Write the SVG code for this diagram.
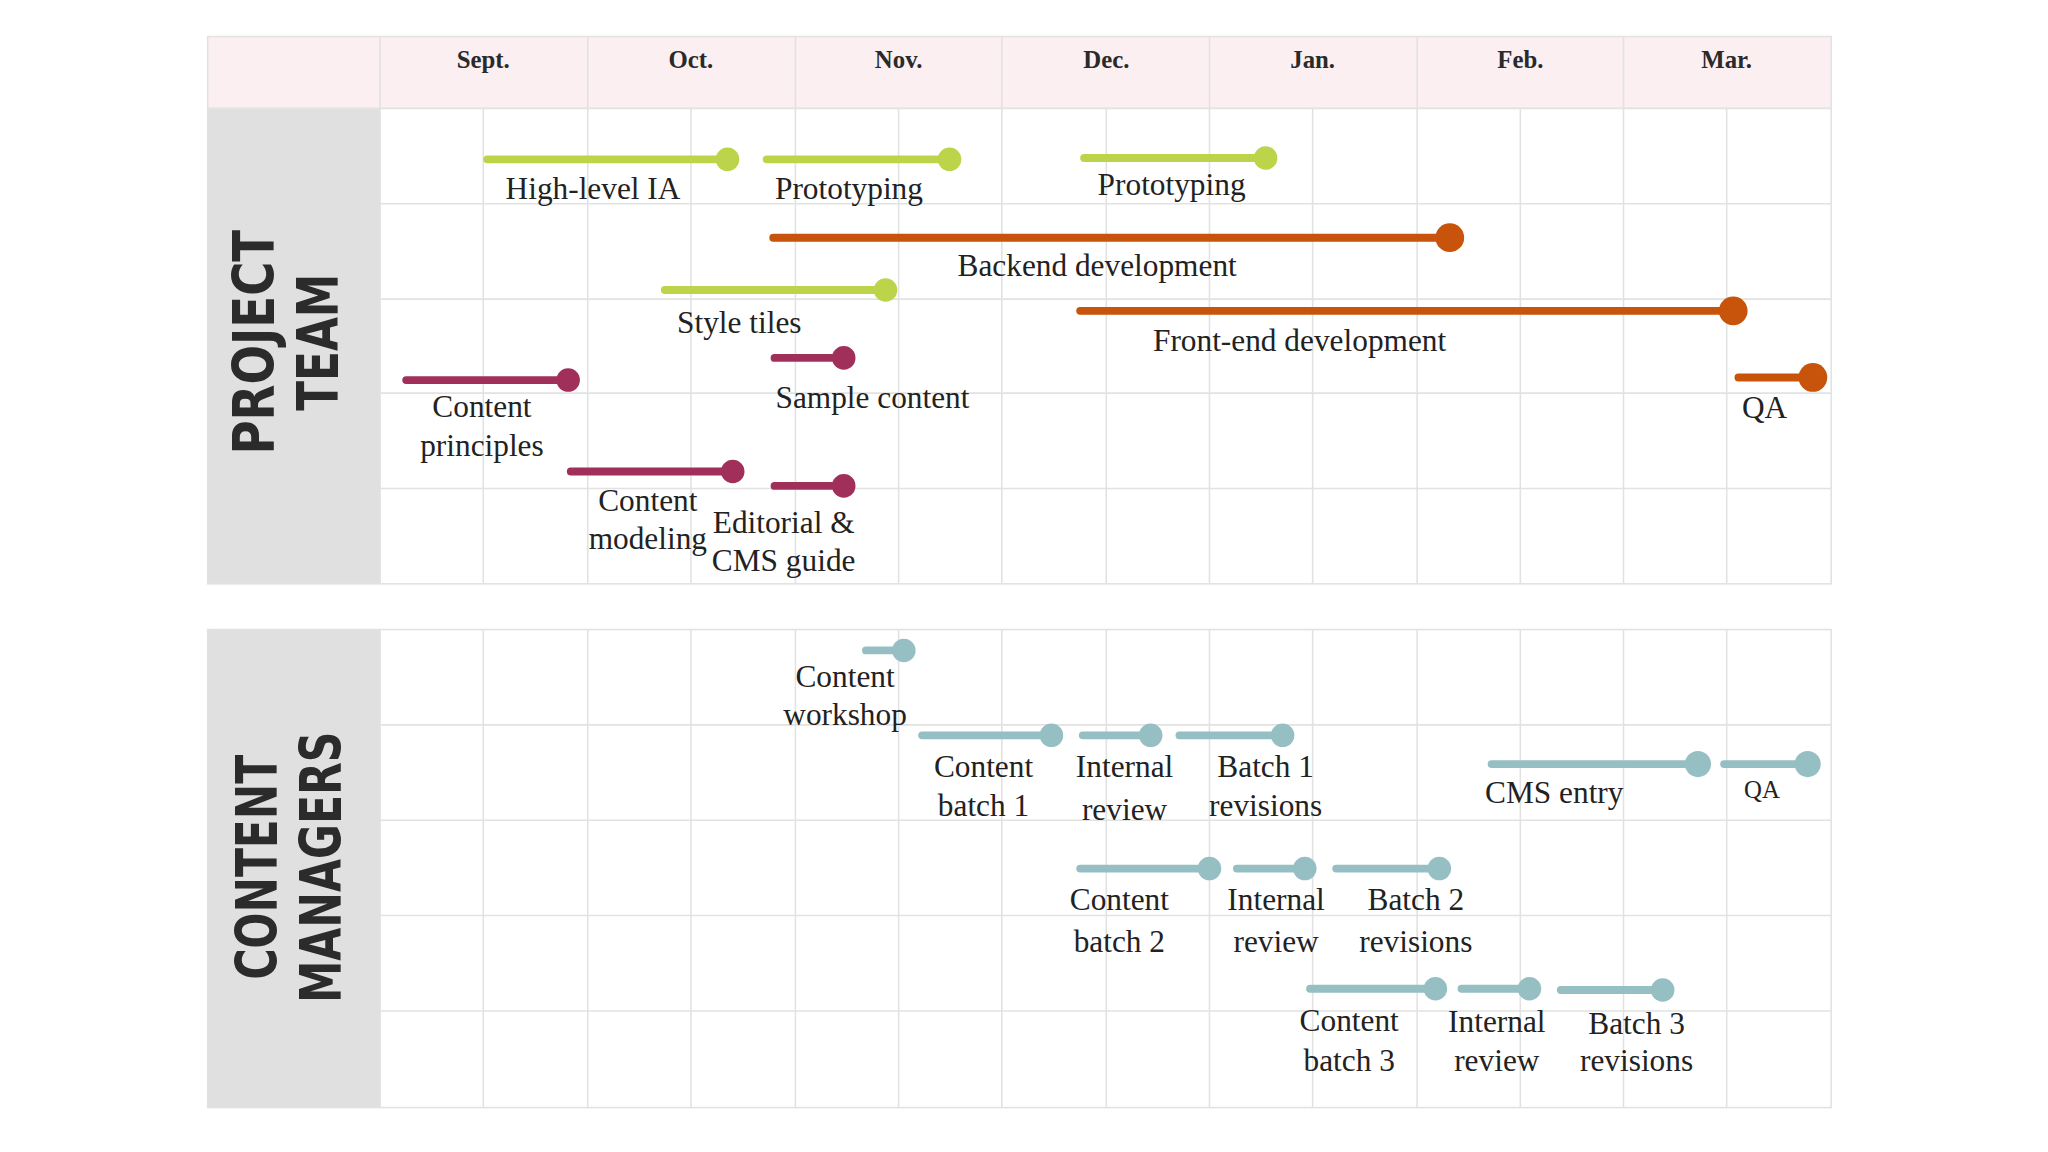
<svg xmlns="http://www.w3.org/2000/svg" width="2048" height="1152" viewBox="0 0 2048 1152">
<style>
.grid{stroke:#e2e2e2;stroke-width:1.2;fill:none}
.hd{font-family:"Liberation Serif",serif;font-weight:bold;font-size:19px;fill:#2a2a2a;text-anchor:middle}
.lb{font-family:"Liberation Serif",serif;font-size:24px;fill:#222;text-anchor:middle}
.side{font-family:"DejaVu Sans Condensed","DejaVu Sans",sans-serif;font-weight:bold;font-size:44px;fill:#2b2b2b;text-anchor:middle}
.g{stroke:#bcd44a}.o{stroke:#c8530a}.m{stroke:#a0305a}.t{stroke:#96bfc4}
.gf{fill:#bcd44a}.of{fill:#c8530a}.mf{fill:#a0305a}.tf{fill:#96bfc4}
.bar line{stroke-width:6;stroke-linecap:round}
</style>
<rect width="2048" height="1152" fill="#fff"/>
<g transform="scale(1.30612)">
<g id="top-table">
<rect x="159" y="28" width="1243" height="55" fill="#fbeff2"/>
<rect x="159" y="83" width="132" height="364" fill="#e0e0e0"/>
<rect x="159" y="28" width="1243" height="419" class="grid"/>
<path class="grid" d="M291 28V447M450 28V447M609 28V447M767 28V447M926 28V447M1085 28V447M1243 28V447M370 83V447M529 83V447M688 83V447M847 83V447M1005 83V447M1164 83V447M1322 83V447M159 83H1402M291 156H1402M291 229H1402M291 301H1402M291 374H1402"/>
<text class="hd" x="370" y="52">Sept.</text><text class="hd" x="529" y="52">Oct.</text><text class="hd" x="688" y="52">Nov.</text><text class="hd" x="847" y="52">Dec.</text><text class="hd" x="1005" y="52">Jan.</text><text class="hd" x="1164" y="52">Feb.</text><text class="hd" x="1322" y="52">Mar.</text>
<text class="side" transform="translate(210 262) rotate(-90)" textLength="172" lengthAdjust="spacingAndGlyphs">PROJECT</text>
<text class="side" transform="translate(259 262) rotate(-90)" textLength="105" lengthAdjust="spacingAndGlyphs">TEAM</text>
</g>
<g id="bottom-table">
<rect x="159" y="482" width="132" height="366" fill="#e0e0e0"/>
<rect x="159" y="482" width="1243" height="366" class="grid"/>
<path class="grid" d="M291 482V848M450 482V848M609 482V848M767 482V848M926 482V848M1085 482V848M1243 482V848M370 482V848M529 482V848M688 482V848M847 482V848M1005 482V848M1164 482V848M1322 482V848M291 555H1402M291 628H1402M291 701H1402M291 774H1402"/>
<text class="side" transform="translate(212 664) rotate(-90)" textLength="172" lengthAdjust="spacingAndGlyphs">CONTENT</text>
<text class="side" transform="translate(261 664) rotate(-90)" textLength="208" lengthAdjust="spacingAndGlyphs">MANAGERS</text>
</g>
<g id="connectors" class="bar">
<line class="g" x1="373" y1="122" x2="557" y2="122"/><circle class="gf" cx="557" cy="122" r="9"/>
<line class="g" x1="587" y1="122" x2="727" y2="122"/><circle class="gf" cx="727" cy="122" r="9"/>
<line class="g" x1="830" y1="121" x2="969" y2="121"/><circle class="gf" cx="969" cy="121" r="9"/>
<line class="o" x1="592" y1="182" x2="1110" y2="182"/><circle class="of" cx="1110" cy="182" r="11"/>
<line class="g" x1="509" y1="222" x2="678" y2="222"/><circle class="gf" cx="678" cy="222" r="9"/>
<line class="o" x1="827" y1="238" x2="1327" y2="238"/><circle class="of" cx="1327" cy="238" r="11"/>
<line class="m" x1="593" y1="274" x2="646" y2="274"/><circle class="mf" cx="646" cy="274" r="9"/>
<line class="m" x1="311" y1="291" x2="435" y2="291"/><circle class="mf" cx="435" cy="291" r="9"/>
<line class="o" x1="1331" y1="289" x2="1388" y2="289"/><circle class="of" cx="1388" cy="289" r="11"/>
<line class="m" x1="437" y1="361" x2="561" y2="361"/><circle class="mf" cx="561" cy="361" r="9"/>
<line class="m" x1="593" y1="372" x2="646" y2="372"/><circle class="mf" cx="646" cy="372" r="9"/>
<line class="t" x1="663" y1="498" x2="692" y2="498"/><circle class="tf" cx="692" cy="498" r="9"/>
<line class="t" x1="706" y1="563" x2="805" y2="563"/><circle class="tf" cx="805" cy="563" r="9"/>
<line class="t" x1="829" y1="563" x2="881" y2="563"/><circle class="tf" cx="881" cy="563" r="9"/>
<line class="t" x1="903" y1="563" x2="982" y2="563"/><circle class="tf" cx="982" cy="563" r="9"/>
<line class="t" x1="1142" y1="585" x2="1300" y2="585"/><circle class="tf" cx="1300" cy="585" r="10"/>
<line class="t" x1="1320" y1="585" x2="1384" y2="585"/><circle class="tf" cx="1384" cy="585" r="10"/>
<line class="t" x1="827" y1="665" x2="926" y2="665"/><circle class="tf" cx="926" cy="665" r="9"/>
<line class="t" x1="947" y1="665" x2="999" y2="665"/><circle class="tf" cx="999" cy="665" r="9"/>
<line class="t" x1="1023" y1="665" x2="1102" y2="665"/><circle class="tf" cx="1102" cy="665" r="9"/>
<line class="t" x1="1003" y1="757" x2="1099" y2="757"/><circle class="tf" cx="1099" cy="757" r="9"/>
<line class="t" x1="1119" y1="757" x2="1171" y2="757"/><circle class="tf" cx="1171" cy="757" r="9"/>
<line class="t" x1="1195" y1="758" x2="1273" y2="758"/><circle class="tf" cx="1273" cy="758" r="9"/>
</g>
<g id="labels">
<g id="n1"><text class="lb" x="454" y="152">High-level IA</text></g>
<g id="n2"><text class="lb" x="650" y="152">Prototyping</text></g>
<g id="n3"><text class="lb" x="897" y="149">Prototyping</text></g>
<g id="n4"><text class="lb" x="840" y="211">Backend development</text></g>
<g id="n5"><text class="lb" x="566" y="255">Style tiles</text></g>
<g id="n6"><text class="lb" x="995" y="269">Front-end development</text></g>
<g id="n7"><text class="lb" x="668" y="312">Sample content</text></g>
<g id="n8"><text class="lb" x="369" y="319">Content</text><text class="lb" x="369" y="349">principles</text></g>
<g id="n9"><text class="lb" x="1351" y="320">QA</text></g>
<g id="n10"><text class="lb" x="496" y="391">Content</text><text class="lb" x="496" y="420">modeling</text></g>
<g id="n11"><text class="lb" x="600" y="408" text-anchor="start">Editorial &amp;</text><text class="lb" x="600" y="437" text-anchor="start">CMS guide</text></g>
<g id="n12"><text class="lb" x="647" y="526">Content</text><text class="lb" x="647" y="555">workshop</text></g>
<g id="n13"><text class="lb" x="753" y="595">Content</text><text class="lb" x="753" y="625">batch 1</text></g>
<g id="n14"><text class="lb" x="861" y="595">Internal</text><text class="lb" x="861" y="628">review</text></g>
<g id="n15"><text class="lb" x="969" y="595">Batch 1</text><text class="lb" x="969" y="625">revisions</text></g>
<g id="n16"><text class="lb" x="1190" y="615">CMS entry</text></g>
<g id="n17"><text class="lb" x="1349" y="611" style="font-size:19px">QA</text></g>
<g id="n18"><text class="lb" x="857" y="697">Content</text><text class="lb" x="857" y="729">batch 2</text></g>
<g id="n19"><text class="lb" x="977" y="697">Internal</text><text class="lb" x="977" y="729">review</text></g>
<g id="n20"><text class="lb" x="1084" y="697">Batch 2</text><text class="lb" x="1084" y="729">revisions</text></g>
<g id="n21"><text class="lb" x="1033" y="789">Content</text><text class="lb" x="1033" y="820">batch 3</text></g>
<g id="n22"><text class="lb" x="1146" y="790">Internal</text><text class="lb" x="1146" y="820">review</text></g>
<g id="n23"><text class="lb" x="1253" y="792">Batch 3</text><text class="lb" x="1253" y="820">revisions</text></g>
</g>
</g>
</svg>
